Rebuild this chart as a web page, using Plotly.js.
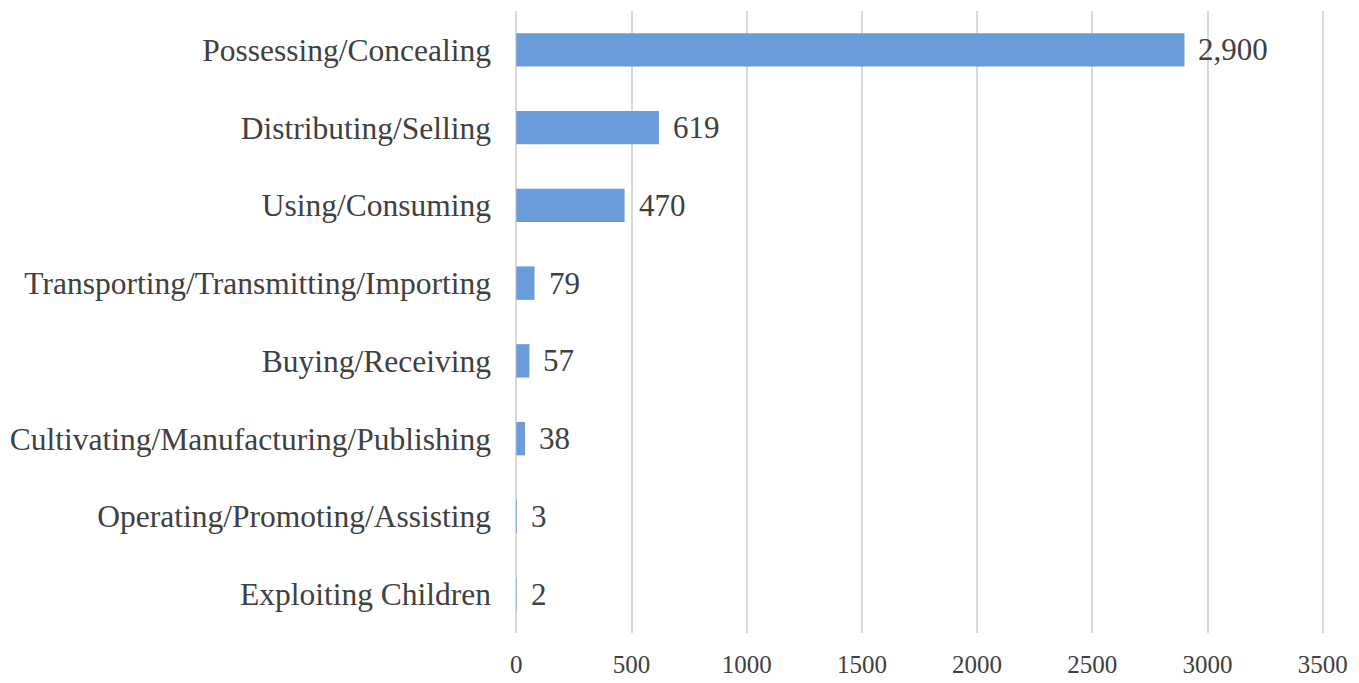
<!DOCTYPE html>
<html>
<head>
<meta charset="utf-8">
<script src="https://cdn.plot.ly/plotly-3.0.1.min.js"></script>
<style>html,body{margin:0;padding:0;background:#fff;}#chart{width:1359px;height:683px;}</style>
</head>
<body>
<div id="chart"></div>
<script>
const categories = [
  "Possessing/Concealing",
  "Distributing/Selling",
  "Using/Consuming",
  "Transporting/Transmitting/Importing",
  "Buying/Receiving",
  "Cultivating/Manufacturing/Publishing",
  "Operating/Promoting/Assisting",
  "Exploiting Children"
];
const counts = [2900, 619, 470, 79, 57, 38, 3, 2];
const tickValues = [0, 500, 1000, 1500, 2000, 2500, 3000, 3500];

const fontFamily = '"Liberation Serif", "Times New Roman", serif';

const trace = {
  type: 'bar',
  orientation: 'h',
  y: categories,
  x: counts,
  marker: {color: '#6A9BDB'},
  width: 0.43,
  hoverinfo: 'x+y'
};

const annotations = counts.map((v, i) => ({
  x: v,
  y: categories[i],
  xref: 'x',
  yref: 'y',
  text: v.toLocaleString('en-US'),
  showarrow: false,
  xanchor: 'left',
  yanchor: 'middle',
  xshift: 12,
  font: {family: fontFamily, size: 31, color: '#404040'}
}));

const layout = {
  width: 1359,
  height: 683,
  margin: {l: 514, r: 34, t: 11, b: 50},
  paper_bgcolor: '#ffffff',
  plot_bgcolor: '#ffffff',
  showlegend: false,
  bargap: 0.57,
  xaxis: {
    range: [-10, 3510],
    tickvals: tickValues,
    ticktext: tickValues.map(String),
    showgrid: true,
    gridcolor: '#d9d9d9',
    gridwidth: 2,
    zeroline: false,
    showline: false,
    ticks: '',
    ticklabelstandoff: 14,
    tickfont: {family: fontFamily, size: 25, color: '#404040'},
    fixedrange: true
  },
  yaxis: {
    type: 'category',
    autorange: 'reversed',
    showgrid: false,
    zeroline: false,
    showline: false,
    ticks: '',
    ticklabelstandoff: 22,
    tickfont: {family: fontFamily, size: 31.5, color: '#404040'},
    fixedrange: true
  },
  annotations: annotations
};

Plotly.newPlot('chart', [trace], layout, {displayModeBar: false, staticPlot: true});
</script>
</body>
</html>
